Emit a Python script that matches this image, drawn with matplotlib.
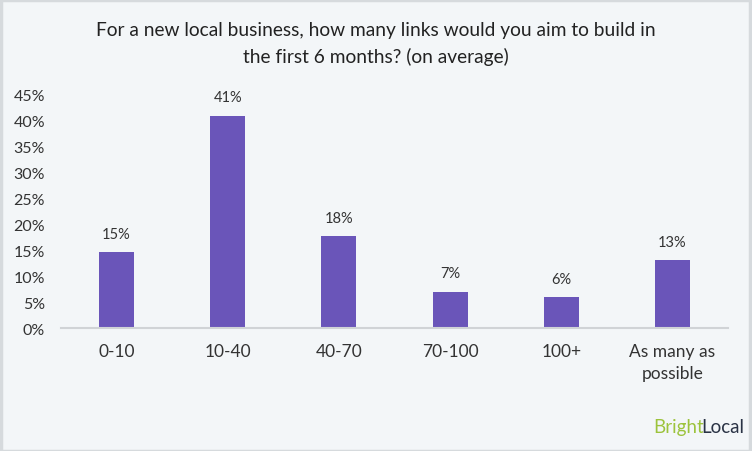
import matplotlib.pyplot as plt
from matplotlib.patches import Rectangle

categories = ["0-10", "10-40", "40-70", "70-100", "100+", "As many as\npossible"]
values = [14.6, 41.0, 17.7, 7.0, 6.0, 13.1]
labels = ["15%", "41%", "18%", "7%", "6%", "13%"]
yticks = [0, 5, 10, 15, 20, 25, 30, 35, 40, 45]

plt.rcParams['font.family'] = ['Lato', 'DejaVu Sans']

bg = "#f3f6f8"
fig = plt.figure(figsize=(7.52, 4.52), dpi=100, facecolor=bg)
ax = fig.add_axes([0.0811, 0.272, 0.887, 0.516])
ax.set_facecolor(bg)

x = range(len(categories))
ax.bar(x, values, width=0.315, color="#6a55b9", zorder=2)
for i, v in enumerate(values):
    ax.text(i, v + 2.2, labels[i], ha="center", va="bottom", fontsize=10.5, color="#333333")

ax.set_xlim(-0.5, 5.5)
ax.set_ylim(0, 45)
ax.set_yticks(yticks)
ax.set_yticklabels([f"{t}%" for t in yticks], fontsize=11.5, color="#333333")
ax.set_xticks(list(x))
ax.set_xticklabels(categories, fontsize=12.5, color="#333333", linespacing=1.45)
ax.tick_params(axis="both", length=0)
ax.tick_params(axis="y", pad=11.5)
ax.tick_params(axis="x", pad=11)
for s in ["top", "right", "left"]:
    ax.spines[s].set_visible(False)
ax.spines["bottom"].set_color("#d0d3d6")
ax.spines["bottom"].set_linewidth(1.5)

fig.text(0.5, 0.902, "For a new local business, how many links would you aim to build in\nthe first 6 months? (on average)",
         ha="center", va="center", fontsize=13.8, color="#222222", linespacing=1.62)

fig.text(0.869, 0.055, "Bright", ha="left", va="center", fontsize=13.5, color="#9cc33c")
fig.text(0.932, 0.055, "Local", ha="left", va="center", fontsize=13.5, color="#2a3345")

fig.patches.append(Rectangle((0.001, 0.001), 0.996, 0.996, transform=fig.transFigure,
                             fill=False, edgecolor="#d6dadd", linewidth=2.5))

fig.savefig("out.png", dpi=100, facecolor=bg)
